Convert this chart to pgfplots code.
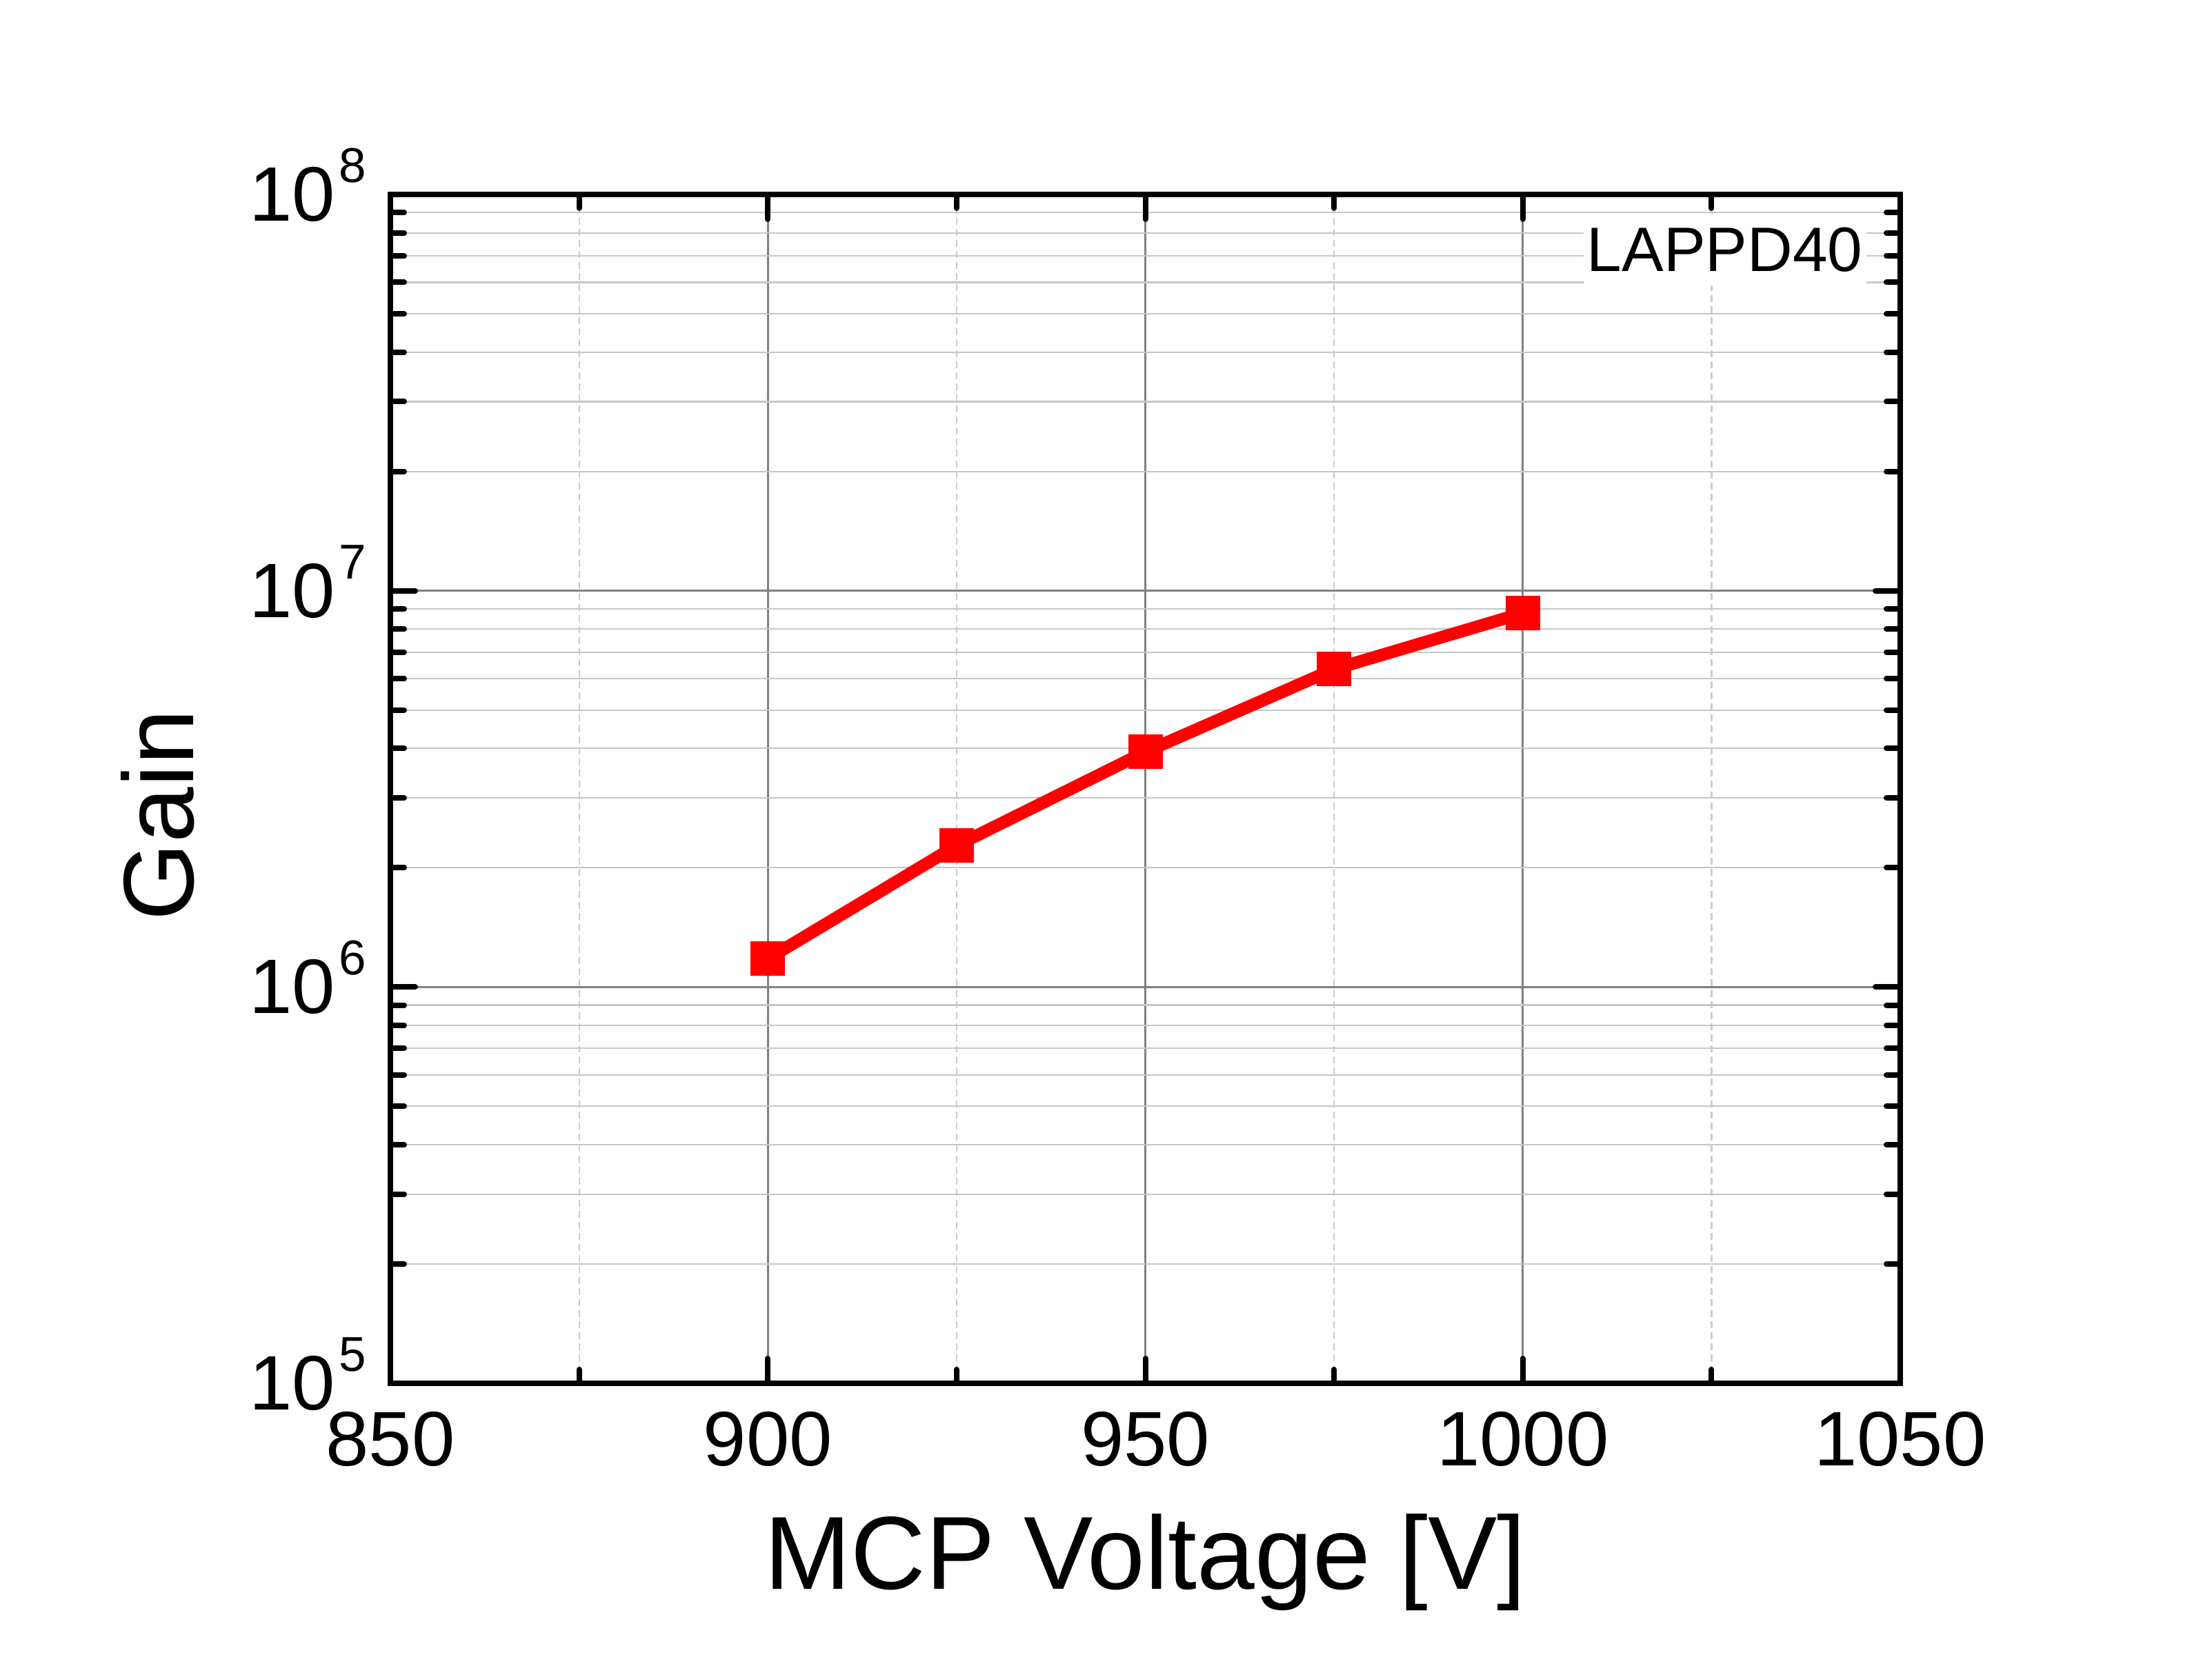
\documentclass[border=0pt]{standalone}
\usepackage{fontspec}
\setmainfont{Liberation Sans}
\usepackage{pgfplots}
\pgfplotsset{compat=1.18}
\newcommand{\ep}[1]{10\hspace{0.5pt}\raisebox{5.6pt}[0pt][0pt]{\fontsize{7.1}{8}\selectfont #1}}
\begin{document}
\begin{tikzpicture}
\useasboundingbox (-56.6pt,-39.4pt) rectangle (264.1pt,200.6pt);
\begin{axis}[
  at={(0,0)}, anchor=south west,
  scale only axis,
  width=218.9pt, height=172.4pt,
  xmin=850, xmax=1050,
  ymode=log, ymin=1e5, ymax=1e8,
  xtick={850,900,950,1000,1050},
  xticklabels={850,900,950,1000,1050},
  minor x tick num=1,
  ytick={1e5,1e6,1e7,1e8},
  yticklabels={\ep{5},\ep{6},\ep{7},\ep{8}},
  tick pos=both, tick align=inside,
  major tick length=3.6pt, minor tick length=2pt,
  every tick/.style={black, line width=0.8pt, line cap=round},
  axis line style={line width=0.8pt},
  ticklabel style={font=\fontsize{11.2}{13}\selectfont},
  xticklabel style={yshift=-0.6pt},
  grid=both,
  major grid style={draw=gray, line width=0.3pt},
  minor y grid style={draw=gray!45, line width=0.22pt},
  minor x grid style={draw=gray!40, line width=0.22pt, dash pattern=on 1pt off 0.6pt},
  xlabel={MCP Voltage [V]},
  ylabel={Gain},
  xlabel style={font=\fontsize{15.05}{17}\selectfont, at={(axis description cs:0.5,-0.1729)}, anchor=base},
  ylabel style={font=\fontsize{14.5}{17}\selectfont, at={(axis description cs:-0.1302,0.478)}, anchor=base, rotate=0},
]
\addplot[red, line width=1.8pt, mark=square*, mark size=2.4pt, mark options={solid, fill=red, draw=red, line width=0.2pt}]
  coordinates {(900,1.178e6) (925,2.275e6) (950,3.92e6) (975,6.34e6) (1000,8.78e6)};
\node[fill=white, inner xsep=0.5pt, inner ysep=2pt, anchor=east, font=\fontsize{9.1}{11}\selectfont]
  at (rel axis cs:0.9783,0.9536) {LAPPD40};
\end{axis}
\end{tikzpicture}
\end{document}
